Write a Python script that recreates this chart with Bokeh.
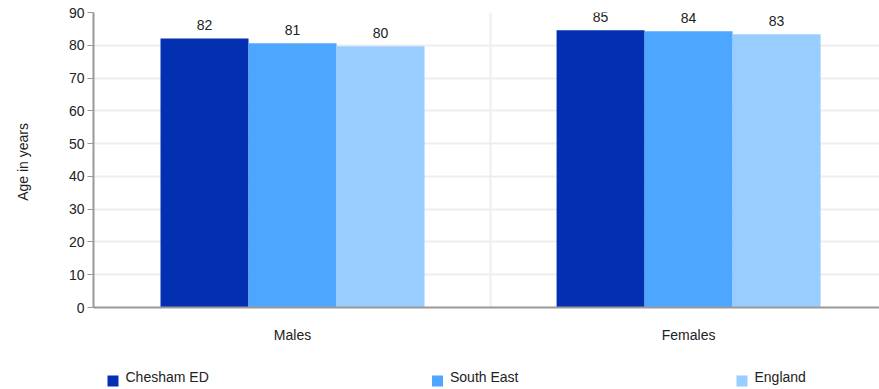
from bokeh.plotting import figure
from bokeh.models import ColumnDataSource, Range1d, FixedTicker
from bokeh.layouts import column
from bokeh.embed import file_html
from bokeh.resources import INLINE
from bokeh.core.properties import value

categories = ["Males", "Females"]
series_names = ["Chesham ED", "South East", "England"]
chesham = [82.1, 84.6]
south_east = [80.6, 84.3]
england = [79.7, 83.4]
colors = ["#0230B0", "#4DA6FF", "#99CCFF"]
y_ticks = [0, 10, 20, 30, 40, 50, 60, 70, 80, 90]

FONT = "Liberation Sans"
TXT = "#222222"

p = figure(width=879, height=347, output_backend="svg", toolbar_location=None,
           x_range=Range1d(-0.5025, 1.482), y_range=Range1d(0, 90),
           min_border_left=93, min_border_right=0, min_border_top=12, min_border_bottom=40)
p.outline_line_color = None

bar_w = 0.2222
for i, (name, vals, col) in enumerate(zip(series_names, [chesham, south_east, england], colors)):
    off = (i - 1) * bar_w
    src = ColumnDataSource(dict(x=[k + off for k in range(len(categories))], top=vals,
                                lab=[str(int(v + 0.5)) for v in vals]))
    p.vbar(x="x", top="top", width=bar_w, bottom=0, source=src, fill_color=col, line_color=None)
    p.text(x="x", y="top", text="lab", source=src, text_align="center", text_baseline="bottom",
           y_offset=-8, text_font=value(FONT), text_font_size="14px", text_color=TXT)

# axes
p.xaxis.ticker = FixedTicker(ticks=list(range(len(categories))))
p.xaxis.major_label_overrides = {i: c for i, c in enumerate(categories)}
p.xaxis.major_tick_line_color = None
p.xaxis.minor_tick_line_color = None
p.xaxis.axis_line_color = "#999999"
p.xaxis.axis_line_width = 2
p.xaxis.major_label_standoff = 13
p.xaxis.major_label_text_font = FONT
p.xaxis.major_label_text_font_size = "14px"
p.xaxis.major_label_text_color = TXT

p.yaxis.ticker = FixedTicker(ticks=y_ticks)
p.yaxis.minor_tick_line_color = None
p.yaxis.axis_line_color = "#999999"
p.yaxis.axis_line_width = 2
p.yaxis.major_tick_line_color = "#999999"
p.yaxis.major_tick_out = 6
p.yaxis.major_tick_in = 0
p.yaxis.major_label_standoff = 3
p.yaxis.major_label_text_font = FONT
p.yaxis.major_label_text_font_size = "14px"
p.yaxis.major_label_text_color = TXT
p.yaxis.axis_label = "Age  in years"
p.yaxis.axis_label_text_font = FONT
p.yaxis.axis_label_text_font_size = "14px"
p.yaxis.axis_label_text_font_style = "normal"
p.yaxis.axis_label_text_color = TXT
p.yaxis.axis_label_standoff = 35

p.ygrid.grid_line_color = "#eeeeee"
p.ygrid.grid_line_width = 2
p.xgrid.ticker = FixedTicker(ticks=[0.5])
p.xgrid.grid_line_color = "#eeeeee"
p.xgrid.grid_line_width = 2

# legend strip below the chart (its frame is aligned with the chart's frame)
leg_x = [112.5, 437, 741.5]
lsrc = ColumnDataSource(dict(x=leg_x, tx=[x + 12.5 for x in leg_x], name=series_names, color=colors))
p2 = figure(width=879, height=42, output_backend="svg", toolbar_location=None,
            x_range=Range1d(93, 879), y_range=Range1d(0, 42),
            x_axis_type=None, y_axis_type=None, min_border=0,
            min_border_left=93, min_border_right=0)
p2.outline_line_color = None
p2.grid.visible = False
p2.scatter(x="x", y=8.5, marker="square", size=11, source=lsrc, fill_color="color", line_color=None)
p2.text(x="tx", y=12.5, text="name", source=lsrc, text_align="left", text_baseline="middle",
        text_font=value(FONT), text_font_size="14px", text_color=TXT)

layout = column(p, p2, spacing=0)
open("out.html", "w").write(file_html(layout, INLINE))
